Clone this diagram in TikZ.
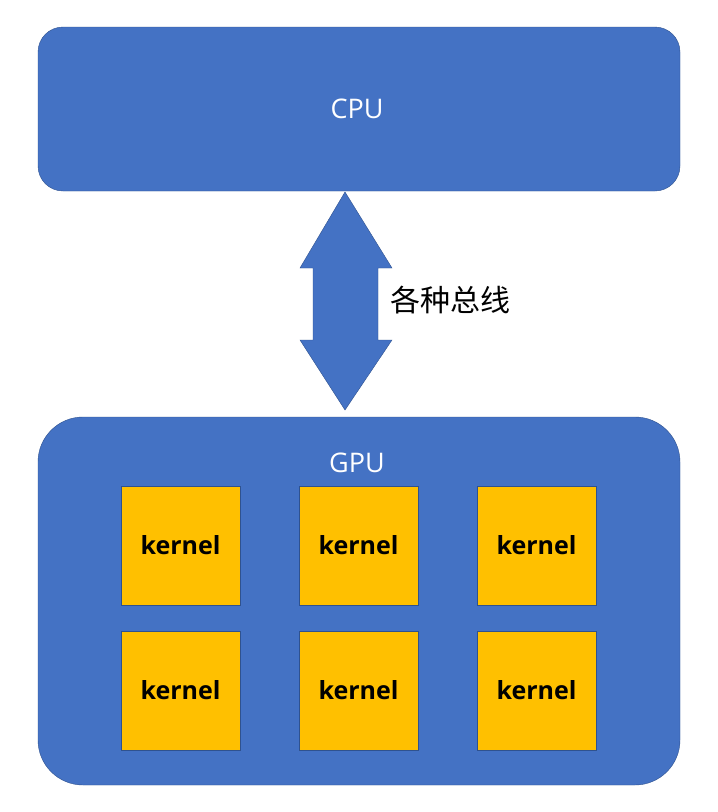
\documentclass[tikz,border=0pt]{standalone}
\usepackage{fontspec}
\setmainfont{Open Sans}
\newfontfamily\cjk{Noto Sans CJK SC}
\newfontfamily\lightf{Open Sans Light}
\definecolor{bl}{HTML}{4472C4}
\definecolor{bd}{HTML}{2F528F}
\definecolor{org}{HTML}{FFC000}
\begin{document}
\begin{tikzpicture}[x=1pt,y=-1pt,
  kern/.style={draw=bd,fill=org,minimum width=119pt,minimum height=119pt,inner sep=0pt,font=\fontsize{25}{28}\selectfont\bfseries}]
\useasboundingbox (0,0) rectangle (718,812);
\fill[white] (0,0) rectangle (718,812);
\draw[bd,fill=bl,rounded corners=25pt] (38,27) rectangle (680,191);
\node[text=white,font=\fontsize{27}{30}\selectfont] (cpu) at (357,109) {CPU};
\draw[bd,fill=bl,rounded corners=45pt] (38,417) rectangle (680,785);
\node[text=white,font=\fontsize{27}{30}\selectfont] (gpu) at (357,463) {GPU};
\draw[bd,fill=bl] (345,192) -- (392,268) -- (378,268) -- (378,340) -- (392,340) -- (345,410) -- (300,340) -- (313,340) -- (313,268) -- (300,268) -- cycle;
\node[font=\cjk\fontsize{30}{34}\selectfont] (bus) at (450,300) {各种总线};
\foreach \c/\x in {1/180.5,2/358.5,3/536.5}{
  \node[kern] (k1\c) at (\x,545.5) {kernel};
  \node[kern] (k2\c) at (\x,690.5) {kernel};
}
\end{tikzpicture}
\end{document}
